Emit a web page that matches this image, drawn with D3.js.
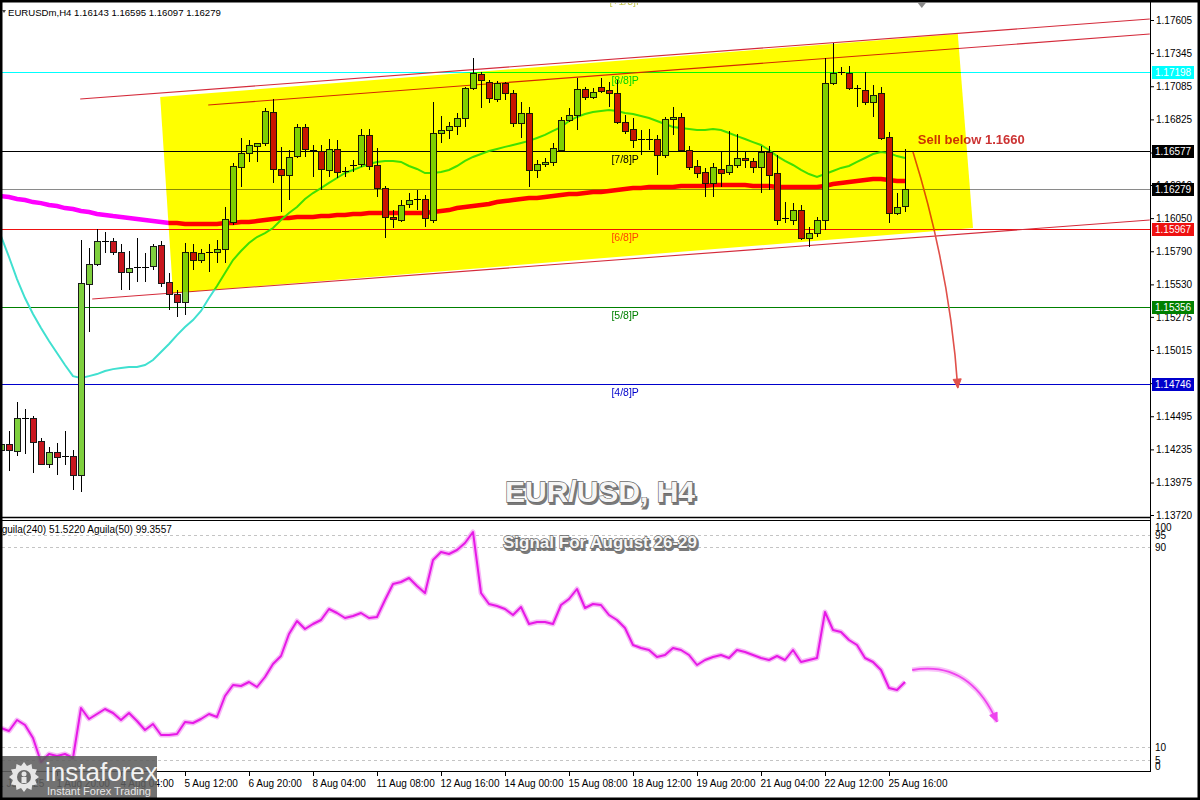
<!DOCTYPE html>
<html><head><meta charset="utf-8">
<script src="https://cdn.jsdelivr.net/npm/d3@7"></script>
<style>
body{margin:0;background:#fff;}
svg{display:block;font-family:"Liberation Sans",Arial,sans-serif;}
</style></head><body>
<svg id="c" width="1200" height="800"></svg>
<script>
// ---------------- DATA ----------------
const symbolHeader = "EURUSDm,H4  1.16143 1.16595 1.16097 1.16279";
const oscHeader = "Aguila(240) 51.5220  Aguila(50) 99.3557";
const openP = [1.14230,1.14277,1.14222,1.14481,1.14481,1.14300,1.14120,1.14214,1.14183,1.14183,
1.14034,1.15533,1.15690,1.15870,1.15870,1.15784,1.15627,1.15666,1.15658,1.15674,
1.15839,1.15549,1.15454,1.15392,1.15784,1.15721,1.15784,1.15784,1.15808,1.16020,
1.16452,1.16561,1.16616,1.16640,1.16883,1.16436,1.16389,1.16538,1.16765,1.16585,
1.16577,1.16428,1.16593,1.16412,1.16459,1.16475,1.16702,1.16467,1.16287,1.16059,
1.16035,1.16161,1.16192,1.16200,1.16035,1.16718,1.16742,1.16773,1.16836,1.17071,
1.17181,1.17118,1.16985,1.17110,1.17032,1.16797,1.16875,1.16428,1.16475,1.16491,
1.16585,1.16820,1.16859,1.17063,1.17001,1.17079,1.17056,1.17032,1.16804,1.16749,
1.16671,1.16671,1.16671,1.16546,1.16828,1.16844,1.16585,1.16459,1.16412,1.16326,
1.16436,1.16412,1.16467,1.16522,1.16498,1.16452,1.16569,1.16404,1.16043,1.16035,
1.16114,1.15894,1.15933,1.16035,1.17110,1.17189,1.17189,1.17071,1.17056,1.16961,
1.17032,1.16687,1.16090,1.16143];
const highP = [1.14324,1.14379,1.14606,1.14552,1.14497,1.14324,1.14253,1.14285,1.14379,1.14230,
1.15878,1.15815,1.15965,1.15941,1.15894,1.15847,1.15792,1.15894,1.15776,1.15847,
1.15870,1.15619,1.15486,1.15855,1.15847,1.15808,1.15847,1.15878,1.16137,1.16483,
1.16679,1.16663,1.16640,1.16914,1.16985,1.16608,1.16585,1.16789,1.16789,1.16624,
1.16624,1.16671,1.16663,1.16452,1.16506,1.16749,1.16749,1.16600,1.16302,1.16114,
1.16192,1.16247,1.16271,1.16231,1.16961,1.16852,1.16804,1.16875,1.17079,1.17307,
1.17197,1.17134,1.17126,1.17118,1.17056,1.16961,1.16922,1.16506,1.16522,1.16640,
1.16844,1.16914,1.17150,1.17079,1.17071,1.17150,1.17118,1.17134,1.16859,1.16836,
1.16742,1.16749,1.16702,1.16844,1.16922,1.16875,1.16616,1.16506,1.16444,1.16483,
1.16569,1.16734,1.16710,1.16569,1.16522,1.16616,1.16616,1.16546,1.16177,1.16169,
1.16153,1.15980,1.16059,1.17307,1.17424,1.17236,1.17244,1.17095,1.17197,1.17095,
1.17079,1.16726,1.16247,1.16595];
const lowP = [1.14183,1.14065,1.14183,1.14198,1.14049,1.14112,1.14089,1.14034,1.14112,1.13916,
1.13900,1.15156,1.15674,1.15776,1.15760,1.15486,1.15486,1.15549,1.15549,1.15643,
1.15509,1.15329,1.15274,1.15289,1.15643,1.15698,1.15627,1.15698,1.15698,1.15996,
1.16295,1.16491,1.16491,1.16616,1.16326,1.16098,1.16192,1.16522,1.16530,1.16373,
1.16271,1.16373,1.16365,1.16373,1.16412,1.16452,1.16428,1.16216,1.15894,1.15973,
1.16020,1.16129,1.16114,1.15980,1.16012,1.16640,1.16671,1.16702,1.16765,1.17056,
1.16914,1.16954,1.16961,1.16977,1.16765,1.16679,1.16295,1.16365,1.16452,1.16459,
1.16569,1.16804,1.16742,1.16977,1.16985,1.17032,1.16922,1.16789,1.16710,1.16600,
1.16546,1.16585,1.16389,1.16522,1.16702,1.16569,1.16428,1.16365,1.16216,1.16216,
1.16295,1.16389,1.16444,1.16444,1.16404,1.16247,1.16271,1.15996,1.16012,1.15996,
1.15878,1.15823,1.15902,1.15957,1.17095,1.17173,1.17056,1.16922,1.16938,1.16844,
1.16663,1.16012,1.16074,1.16097];
const closeP = [1.14277,1.14230,1.14481,1.14473,1.14293,1.14120,1.14214,1.14175,1.14175,1.14034,
1.15541,1.15690,1.15870,1.15862,1.15784,1.15627,1.15658,1.15658,1.15666,1.15831,
1.15541,1.15454,1.15392,1.15784,1.15721,1.15776,1.15776,1.15808,1.16043,1.16459,
1.16561,1.16624,1.16640,1.16891,1.16436,1.16389,1.16530,1.16765,1.16593,1.16577,
1.16436,1.16593,1.16412,1.16420,1.16467,1.16702,1.16459,1.16287,1.16059,1.16043,
1.16153,1.16192,1.16200,1.16051,1.16718,1.16742,1.16773,1.16836,1.17071,1.17189,
1.17134,1.16993,1.17110,1.17032,1.16797,1.16875,1.16428,1.16475,1.16491,1.16600,
1.16820,1.16859,1.17063,1.17001,1.17040,1.17048,1.17032,1.16804,1.16734,1.16663,
1.16663,1.16663,1.16546,1.16828,1.16844,1.16585,1.16452,1.16404,1.16326,1.16452,
1.16404,1.16467,1.16522,1.16506,1.16452,1.16569,1.16389,1.16035,1.16051,1.16114,
1.15894,1.15933,1.16035,1.17110,1.17189,1.17197,1.17071,1.17063,1.16961,1.17016,
1.16679,1.16090,1.16137,1.16279];
// fast moving average (turquoise)
const maFast = [1.15909,1.15745,1.15572,1.15423,1.15297,1.15187,1.15085,1.14991,1.14897,1.14810,
1.14795,1.14810,1.14826,1.14850,1.14865,1.14873,1.14881,1.14881,1.14897,1.14936,
1.14999,1.15062,1.15132,1.15195,1.15250,1.15321,1.15423,1.15517,1.15619,1.15721,
1.15792,1.15855,1.15902,1.15933,1.15972,1.16035,1.16090,1.16137,1.16200,1.16247,
1.16286,1.16326,1.16365,1.16404,1.16428,1.16452,1.16475,1.16491,1.16499,1.16499,
1.16491,1.16459,1.16436,1.16404,1.16404,1.16412,1.16428,1.16459,1.16499,1.16530,
1.16553,1.16577,1.16593,1.16609,1.16624,1.16640,1.16656,1.16679,1.16703,1.16734,
1.16765,1.16812,1.16844,1.16867,1.16883,1.16891,1.16899,1.16891,1.16875,1.16867,
1.16852,1.16836,1.16812,1.16789,1.16765,1.16757,1.16749,1.16742,1.16742,1.16749,
1.16742,1.16718,1.16694,1.16671,1.16647,1.16624,1.16585,1.16537,1.16499,1.16467,
1.16428,1.16396,1.16373,1.16396,1.16420,1.16444,1.16459,1.16491,1.16522,1.16553,
1.16569,1.16561,1.16537,1.16522];
// slow moving average (magenta)
const maSlow = [1.16223,1.16216,1.16200,1.16192,1.16176,1.16168,1.16153,1.16145,1.16129,1.16121,
1.16106,1.16098,1.16083,1.16075,1.16066,1.16059,1.16051,1.16043,1.16035,1.16027,
1.16019,1.16012,1.16012,1.16004,1.16004,1.16004,1.16004,1.16004,1.16012,1.16012,
1.16019,1.16019,1.16027,1.16035,1.16043,1.16051,1.16051,1.16059,1.16059,1.16059,
1.16066,1.16066,1.16075,1.16075,1.16083,1.16083,1.16090,1.16090,1.16090,1.16090,
1.16090,1.16090,1.16090,1.16090,1.16098,1.16106,1.16113,1.16129,1.16137,1.16145,
1.16153,1.16161,1.16176,1.16184,1.16192,1.16200,1.16208,1.16208,1.16216,1.16223,
1.16231,1.16239,1.16239,1.16247,1.16255,1.16255,1.16263,1.16271,1.16279,1.16286,
1.16286,1.16294,1.16294,1.16294,1.16294,1.16302,1.16302,1.16302,1.16302,1.16310,
1.16310,1.16310,1.16310,1.16310,1.16302,1.16302,1.16302,1.16294,1.16294,1.16294,
1.16294,1.16294,1.16294,1.16302,1.16318,1.16326,1.16333,1.16341,1.16349,1.16357,
1.16357,1.16349,1.16341,1.16341];
// oscillator
const aguila = [17.6,16.4,20.8,18.8,13.6,4.0,7.2,6.4,7.2,5.6,
25.6,21.2,23.2,25.2,23.6,20.8,23.6,20.4,16.8,19.2,
14.8,14.8,15.2,20.0,19.6,21.2,23.2,22.0,30.4,34.8,
34.4,36.0,34.0,38.0,43.2,46.4,55.2,60.4,57.2,59.2,
60.8,65.2,63.6,61.6,62.4,63.6,61.6,62.0,68.8,75.2,
76.0,77.6,74.4,71.6,84.8,88.0,87.2,88.8,91.6,96.0,
71.6,67.2,66.4,65.2,62.8,66.0,59.2,60.0,60.0,59.2,
66.8,69.2,73.2,65.6,67.2,66.8,62.8,60.8,57.6,50.8,
49.6,48.8,46.0,46.8,49.6,48.8,46.8,42.8,44.8,46.0,
46.8,45.6,48.8,48.0,46.8,45.6,44.8,46.4,44.8,48.8,
44.0,44.8,45.6,64.0,56.8,56.0,52.8,50.8,45.6,44.0,
40.8,33.6,32.8,36.0];
const timeIdx = [-1,7,15,23,31,39,47,55,63,71,79,87,95,103,111];
const timeText = ["31 Jul 2025","1 Aug 20:00","4 Aug 04:00","5 Aug 12:00","6 Aug 20:00","8 Aug 04:00","11 Aug 08:00","12 Aug 16:00","14 Aug 00:00","15 Aug 08:00","18 Aug 12:00","19 Aug 20:00","21 Aug 04:00","22 Aug 12:00","25 Aug 16:00"];
const priceTicks = [1.17605,1.17345,1.17085,1.16825,1.16565,1.16310,1.16050,1.15790,1.15530,1.15275,1.15015,1.14755,1.14495,1.14235,1.13975,1.13720];
const levelPrice = [1.17198,1.16577,1.15967,1.15356,1.14746];
const levelName = ["[8/8]P","[7/8]P","[6/8]P","[5/8]P","[4/8]P"];
const levelColor = ["#00ffff","#000000","#ee1111","#008000","#0000cc"];
const levelTextColor = ["#00d8d8","#000000","#ff4500","#008000","#0000cc"];
const currentPrice = 1.16279;
const oscLevels = [95,90,10,5];
const oscTickValues = [100,95,90,10,5,0];
// annotations in (bar index, price)
const boxIdx = [19.9,119.6,121.5,21.5];
const boxPrice = [1.17001,1.17495,1.15972,1.15462];
const channelIdx = [[9.9,143.6],[25.9,143.6],[11.4,143.6]];
const channelPrice = [[1.16985,1.17613],[1.16938,1.17495],[1.15415,1.16035]];
const sellArrowIdx = [114,118.6,119.6];
const sellArrowPrice = [1.16569,1.15643,1.14716];
const oscArrowIdx = [113.9,121.1,124.5];
const oscArrowVal = [40.8,44.8,20];
const sellText = "Sell below 1.1660";
const titleText = "EUR/USD, H4";
const subtitleText = "Signal For August 26-29";

// ---------------- LAYOUT ----------------
const W=1200,H=800, PL=2, PR=1150, MT=3, MB=517, OT=521, OB=771;
const N = closeP.length;
const x = d3.scaleLinear().domain([0,N-1]).range([1,905]);
const y = d3.scaleLinear().domain([1.13720,1.17605]).range([515,20]);
const yo = d3.scaleLinear().domain([0,100]).range([772,522]);

const svg = d3.select("#c");
svg.append("rect").attr("width",W).attr("height",H).attr("fill","#fff");
const defs = svg.append("defs");
defs.append("clipPath").attr("id","cm").append("rect").attr("x",PL).attr("y",MT).attr("width",PR-PL).attr("height",MB-MT);
defs.append("clipPath").attr("id","co").append("rect").attr("x",PL).attr("y",OT).attr("width",PR-PL).attr("height",OB-OT);

const main = svg.append("g").attr("clip-path","url(#cm)");

// horizontal levels
levelPrice.forEach((p,i)=>{
  main.append("line").attr("x1",PL).attr("x2",PR).attr("y1",Math.round(y(p))+0.5).attr("y2",Math.round(y(p))+0.5)
    .attr("stroke",levelColor[i]).attr("stroke-width",1);
});
main.append("line").attr("x1",PL).attr("x2",PR).attr("y1",Math.round(y(currentPrice))+0.5).attr("y2",Math.round(y(currentPrice))+0.5)
  .attr("stroke","#8a8a8a").attr("stroke-width",1);
// level labels
levelPrice.forEach((p,i)=>{
  main.append("text").attr("x",x(76.3)).attr("y",y(p)+12).attr("font-size",10.5)
    .attr("fill",levelTextColor[i]).text(levelName[i]);
});
main.append("text").attr("x",x(76.3)-2).attr("y",5).attr("font-size",10.5).attr("fill","#c8c850").text("[+1/8]P");

// channel lines
channelIdx.forEach((ci,i)=>{
  main.append("line").attr("x1",x(ci[0])).attr("x2",x(ci[1])).attr("y1",y(channelPrice[i][0])).attr("y2",y(channelPrice[i][1]))
    .attr("stroke","#d42a3a").attr("stroke-width",1.1);
});

// moving averages
const lineGen = d3.line().x((d,i)=>x(i)).y(d=>y(d));
main.append("path").attr("d",lineGen(maSlow)).attr("fill","none").attr("stroke","#ff00ff").attr("stroke-width",4.5);
main.append("path").attr("d",lineGen(maFast)).attr("fill","none").attr("stroke","#40e0d0").attr("stroke-width",2);

// candles
const cg = main.append("g").attr("shape-rendering","crispEdges");
d3.range(N).forEach(i=>{
  const cx = Math.round(x(i));
  cg.append("line").attr("x1",cx+0.5).attr("x2",cx+0.5).attr("y1",y(highP[i])).attr("y2",y(lowP[i])).attr("stroke","#000");
  const top = y(Math.max(openP[i],closeP[i])), bot = y(Math.min(openP[i],closeP[i]));
  const h = bot-top;
  if (h < 1.5) {
    cg.append("line").attr("x1",cx-3).attr("x2",cx+4).attr("y1",Math.round(top)+0.5).attr("y2",Math.round(top)+0.5).attr("stroke","#000");
  } else {
    cg.append("rect").attr("x",cx-2.5).attr("width",6).attr("y",Math.round(top)+0.5).attr("height",Math.round(h))
      .attr("fill", closeP[i]>openP[i] ? "#7fd03e" : "#c8161e").attr("stroke","#1a1a1a").attr("stroke-width",1);
  }
});

// sell text
main.append("text").attr("x",x(114.6)).attr("y",y(1.16660)+4).attr("font-size",13).attr("font-weight","bold")
  .attr("fill","#cc3333").text(sellText);

// arrow helper
function arrow(g, p0, p1, p2, color, width, head){
  g.append("path").attr("d",`M${p0[0]},${p0[1]} Q${p1[0]},${p1[1]} ${p2[0]},${p2[1]}`)
    .attr("fill","none").attr("stroke",color).attr("stroke-width",width);
  const dx=p2[0]-p1[0], dy=p2[1]-p1[1], L=Math.hypot(dx,dy), ux=dx/L, uy=dy/L, nx=-uy, ny=ux;
  const b=[p2[0]-ux*head, p2[1]-uy*head];
  g.append("path").attr("d",`M${p2[0]},${p2[1]} L${b[0]+nx*head*0.45},${b[1]+ny*head*0.45} L${b[0]-nx*head*0.45},${b[1]-ny*head*0.45} Z`)
    .attr("fill",color).attr("stroke",color).attr("stroke-width",1);
}
arrow(main, [x(sellArrowIdx[0]),y(sellArrowPrice[0])],[x(sellArrowIdx[1]),y(sellArrowPrice[1])],[x(sellArrowIdx[2]),y(sellArrowPrice[2])],"#e0504a",1.6,9);

// yellow channel box (multiply blend)
main.append("path").attr("d", d3.line()(boxIdx.map((b,i)=>[x(b),y(boxPrice[i])]))+"Z")
  .attr("fill","#ffff00").style("mix-blend-mode","multiply");

// gray marker triangle at top
main.append("path").attr("d",`M${x(114.6)},${MT} l8,0 l-4,5 Z`).attr("fill","#8a8a8a");

// ---------------- OSCILLATOR ----------------
const osc = svg.append("g").attr("clip-path","url(#co)");
oscLevels.forEach(v=>{
  osc.append("line").attr("x1",PL).attr("x2",PR).attr("y1",Math.round(yo(v))+0.5).attr("y2",Math.round(yo(v))+0.5)
    .attr("stroke","#c4c4c4").attr("stroke-dasharray","3,3");
});
const oscLine = d3.line().x((d,i)=>x(i)).y(d=>yo(d));
osc.append("path").attr("d",oscLine(aguila)).attr("fill","none").attr("stroke","#f7b8f7").attr("stroke-width",5).attr("stroke-linejoin","round");
osc.append("path").attr("d",oscLine(aguila)).attr("fill","none").attr("stroke","#e619e6").attr("stroke-width",2).attr("stroke-linejoin","round");
const oa = oscArrowIdx.map((b,i)=>[x(b),yo(oscArrowVal[i])]);
osc.append("path").attr("d",`M${oa[0][0]},${oa[0][1]} Q${oa[1][0]},${oa[1][1]} ${oa[2][0]},${oa[2][1]}`).attr("fill","none").attr("stroke","#f9c2f9").attr("stroke-width",5);
arrow(osc, oa[0], oa[1], oa[2], "#ee44ee", 1.8, 9);
osc.append("text").attr("x",-5).attr("y",533).attr("font-size",10).attr("fill","#000").text(oscHeader);

// ---------------- FRAMES & AXES ----------------
svg.append("line").attr("x1",0).attr("x2",PR).attr("y1",MB+0.5).attr("y2",MB+0.5).attr("stroke","#000").attr("stroke-width",1.5);
svg.append("line").attr("x1",0).attr("x2",PR).attr("y1",OT-0.5).attr("y2",OT-0.5).attr("stroke","#000").attr("stroke-width",1.2);
svg.append("line").attr("x1",0).attr("x2",PR).attr("y1",OB+0.5).attr("y2",OB+0.5).attr("stroke","#000");
svg.append("line").attr("x1",PR+0.5).attr("x2",PR+0.5).attr("y1",0).attr("y2",OB+1).attr("stroke","#000");

// price axis
const pAxis = svg.append("g").attr("transform",`translate(${PR},0)`)
  .call(d3.axisRight(y).tickValues(priceTicks).tickSize(4).tickPadding(2).tickFormat(d3.format(".5f")));
pAxis.select(".domain").remove();
pAxis.selectAll("text").attr("font-size",10).attr("font-family","Liberation Sans, Arial, sans-serif").attr("fill","#000");
pAxis.selectAll("line").attr("stroke","#000");

// price markers
const markerP = levelPrice.concat([currentPrice]);
const markerBg = ["#00ffff","#000000","#ee1111","#008000","#0000cc","#000000"];
markerP.forEach((p,i)=>{
  const yy = Math.round(y(p));
  svg.append("rect").attr("x",PR+2).attr("y",yy-6).attr("width",42).attr("height",13).attr("fill",markerBg[i]);
  svg.append("text").attr("x",PR+5).attr("y",yy+4).attr("font-size",10).attr("fill","#fff").text(d3.format(".5f")(p));
});

// oscillator axis labels
oscTickValues.forEach(v=>{
  const yy = Math.max(527, Math.min(766, yo(v)));
  svg.append("text").attr("x",PR+5).attr("y",yy+4).attr("font-size",10).attr("fill","#000").text(v);
});

// time axis
const tAxis = svg.append("g").attr("transform",`translate(0,${OB+1})`)
  .call(d3.axisBottom(x).tickValues(timeIdx).tickSize(4).tickFormat((d,i)=>timeText[i]));
tAxis.select(".domain").remove();
tAxis.selectAll("text").attr("font-size",10).attr("font-family","Liberation Sans, Arial, sans-serif").attr("fill","#000")
  .attr("text-anchor","start").attr("dx",-1).attr("y",8);
tAxis.selectAll("line").attr("stroke","#000");

// header
svg.append("text").attr("x",8).attr("y",16).attr("font-size",9.6).attr("fill","#000").text(symbolHeader);
svg.append("path").attr("d","M2,10 l4,0 l-2,3 Z").attr("fill","#444");

// titles
function embossed(txt, cx, cy, size){
  svg.append("text").attr("x",cx+1.5).attr("y",cy+1.5).attr("text-anchor","middle").attr("font-size",size).attr("font-weight","bold")
    .attr("fill","#7a7a7a").attr("stroke","#7a7a7a").attr("stroke-width",2).text(txt);
  svg.append("text").attr("x",cx).attr("y",cy).attr("text-anchor","middle").attr("font-size",size).attr("font-weight","bold")
    .attr("fill","#f6f6f6").attr("stroke","#6a6a6a").attr("stroke-width",1.3).attr("paint-order","stroke").text(txt);
}
embossed(titleText, 600, 502, 30);
embossed(subtitleText, 600, 548, 17);

// logo
const logo = svg.append("g");
logo.append("rect").attr("x",0).attr("y",756).attr("width",157).attr("height",44).attr("fill","#5e5e5e").attr("opacity",0.88);
const gearPts = d3.range(24).map(j=>{const a=j*Math.PI/12, r=(Math.floor(j/1)%2===0)?15:11.5; return [24+r*Math.cos(a), 777+r*Math.sin(a)];});
logo.append("path").attr("d",d3.line()(gearPts)+"Z").attr("fill","#e6e6e6");
logo.append("circle").attr("cx",24).attr("cy",777).attr("r",7).attr("fill","#6a6a6a");
logo.append("circle").attr("cx",24).attr("cy",774).attr("r",2.5).attr("fill","#e6e6e6");
logo.append("rect").attr("x",21.5).attr("y",777).attr("width",5).attr("height",6).attr("fill","#e6e6e6");
logo.append("text").attr("x",45).attr("y",781).attr("font-size",26).attr("fill","#f2f2f2").text("instaforex");
logo.append("text").attr("x",47).attr("y",795).attr("font-size",11).attr("fill","#e8e8e8").text("Instant Forex Trading");

// outer frame
svg.append("rect").attr("x",1).attr("y",1).attr("width",W-2).attr("height",H-2).attr("fill","none").attr("stroke","#000").attr("stroke-width",3);
</script>
</body></html>
